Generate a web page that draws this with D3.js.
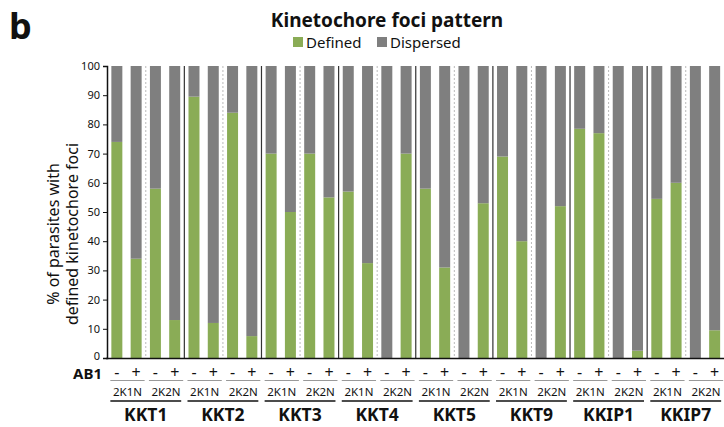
<!DOCTYPE html>
<html>
  <head>
    <style>
    body { margin: 0; background: #fff; }
    text { font-family: 'Noto Sans', sans-serif; fill: #111; }
    .bold { font-weight: bold; }
    </style>
  </head>
  <body>

    <svg width="724" height="427"></svg>

    <script src="https://cdn.jsdelivr.net/npm/d3@7"></script>
    <script>

      const genes = ['KKT1', 'KKT2', 'KKT3', 'KKT4', 'KKT5', 'KKT9', 'KKIP1', 'KKIP7']
      const stages = ['2K1N', '2K2N']
      const ab1 = ['-', '+']
      const yTicks = [0, 10, 20, 30, 40, 50, 60, 70, 80, 90, 100]
      const seriesNames = ['Defined', 'Dispersed']
      const colors = ['#8aac56', '#7f7f7f']

      // % defined per gene, order: 2K1N -, 2K1N +, 2K2N -, 2K2N +
      const defined = [
        [74, 34, 58, 13],
        [89.5, 12, 84, 7.5],
        [70, 50, 70, 55],
        [57, 32.5, 0, 70],
        [58, 31, 0, 53],
        [69, 40, 0, 52],
        [78.5, 77, 0, 2.5],
        [54.5, 60, 0, 9.5]
      ]

      const data = []
      genes.forEach((g, gi) => {
        stages.forEach((s, si) => {
          ab1.forEach((a, ai) => {
            const v = defined[gi][si * 2 + ai]
            data.push({ key: g + '|' + s + '|' + a, gene: g, stage: s, ab: a, Defined: v, Dispersed: 100 - v })
          })
        })
      })

      const svg = d3.select('svg')

      const x = d3.scaleBand()
        .domain(data.map(d => d.key))
        .range([107.5, 724])
        .paddingInner(0.43)
        .paddingOuter(0.2)
      const y = d3.scaleLinear().domain([0, 100]).range([358, 66])
      const bw = x.bandwidth()
      const step = x.step()

      const stacked = d3.stack().keys(seriesNames)(data)

      svg.append('g').selectAll('g')
        .data(stacked)
        .enter().append('g')
          .attr('fill', (d, i) => colors[i])
        .selectAll('rect')
        .data(d => d)
        .enter().append('rect')
          .attr('x', d => x(d.data.key))
          .attr('y', d => y(d[1]))
          .attr('width', bw)
          .attr('height', d => y(d[0]) - y(d[1]))

      // separators between groups and dotted lines between stages
      genes.forEach((g, gi) => {
        const xm = x(g + '|2K2N|-') - (step - bw) / 2
        svg.append('line')
          .attr('x1', xm).attr('x2', xm).attr('y1', 66).attr('y2', 358)
          .attr('stroke', '#bbb').attr('stroke-width', 1).attr('stroke-dasharray', '2,2')
        if (gi > 0) {
          const xs = x(g + '|2K1N|-') - (step - bw) / 2
          svg.append('line')
            .attr('x1', xs).attr('x2', xs).attr('y1', 66).attr('y2', 358)
            .attr('stroke', '#333').attr('stroke-width', 1.2)
        }
      })

      // y axis
      const yAxis = d3.axisLeft(y).tickValues(yTicks).tickSize(4).tickPadding(3)
      const yg = svg.append('g')
        .attr('transform', 'translate(107,0)')
        .call(yAxis)
      yg.select('.domain').attr('stroke', '#111').attr('stroke-width', 1.5)
      yg.selectAll('.tick line').attr('stroke', '#111')
      yg.selectAll('.tick text').style('font-size', '11px').attr('fill', '#111')
      yg.selectAll('.tick text').filter(d => d === 0).attr('dy', '0.1em')

      svg.append('line')
        .attr('x1', 106).attr('x2', 724).attr('y1', 358.5).attr('y2', 358.5)
        .attr('stroke', '#111').attr('stroke-width', 1.5)

      // y title
      const yt = svg.append('text')
        .attr('transform', 'translate(0,234) rotate(-90)')
        .attr('text-anchor', 'middle')
        .style('font-size', '16px')
      yt.append('tspan').attr('x', 0).attr('y', 59).text('% of parasites with')
      yt.append('tspan').attr('x', 0).attr('y', 78).text('defined kinetochore foci')

      // AB1 row
      svg.append('text').attr('class', 'bold')
        .attr('x', 102).attr('y', 379).attr('text-anchor', 'end')
        .style('font-size', '15px').text('AB1')

      svg.append('g').selectAll('text')
        .data(data)
        .enter().append('text')
          .attr('x', d => x(d.key) + bw / 2)
          .attr('y', 378)
          .attr('text-anchor', 'middle')
          .style('font-size', '16px')
          .text(d => d.ab)

      // stage and gene labels
      genes.forEach(g => {
        stages.forEach(s => {
          const x0 = x(g + '|' + s + '|-') - 1
          const x1 = x(g + '|' + s + '|+') + bw + 3
          svg.append('line')
            .attr('x1', x0).attr('x2', x1).attr('y1', 380.5).attr('y2', 380.5)
            .attr('stroke', '#999').attr('stroke-width', 1)
          svg.append('text')
            .attr('x', (x0 + x1) / 2).attr('y', 396)
            .attr('text-anchor', 'middle')
            .style('font-size', '11.5px')
            .text(s)
        })
        const g0 = x(g + '|2K1N|-') - 1
        const g1 = x(g + '|2K2N|+') + bw + 1
        svg.append('line')
          .attr('x1', g0).attr('x2', g1).attr('y1', 401).attr('y2', 401)
          .attr('stroke', '#111').attr('stroke-width', 1.5)
        svg.append('text').attr('class', 'bold')
          .attr('x', (g0 + g1) / 2).attr('y', 421)
          .attr('text-anchor', 'middle')
          .style('font-size', '17.5px')
          .text(g)
      })

      // title & legend
      svg.append('text').attr('class', 'bold')
        .attr('x', 387).attr('y', 27).attr('text-anchor', 'middle')
        .style('font-size', '19px').text('Kinetochore foci pattern')

      const legend = svg.append('g')
      const legX = [293, 377]
      seriesNames.forEach((n, i) => {
        legend.append('rect')
          .attr('x', legX[i]).attr('y', 37).attr('width', 10).attr('height', 10)
          .attr('fill', colors[i])
        legend.append('text')
          .attr('x', legX[i] + 13).attr('y', 48)
          .style('font-size', '15px').text(n)
      })

      svg.append('text').attr('class', 'bold')
        .attr('x', 9).attr('y', 39)
        .style('font-size', '36px').text('b')

    </script>
  </body>
</html>
